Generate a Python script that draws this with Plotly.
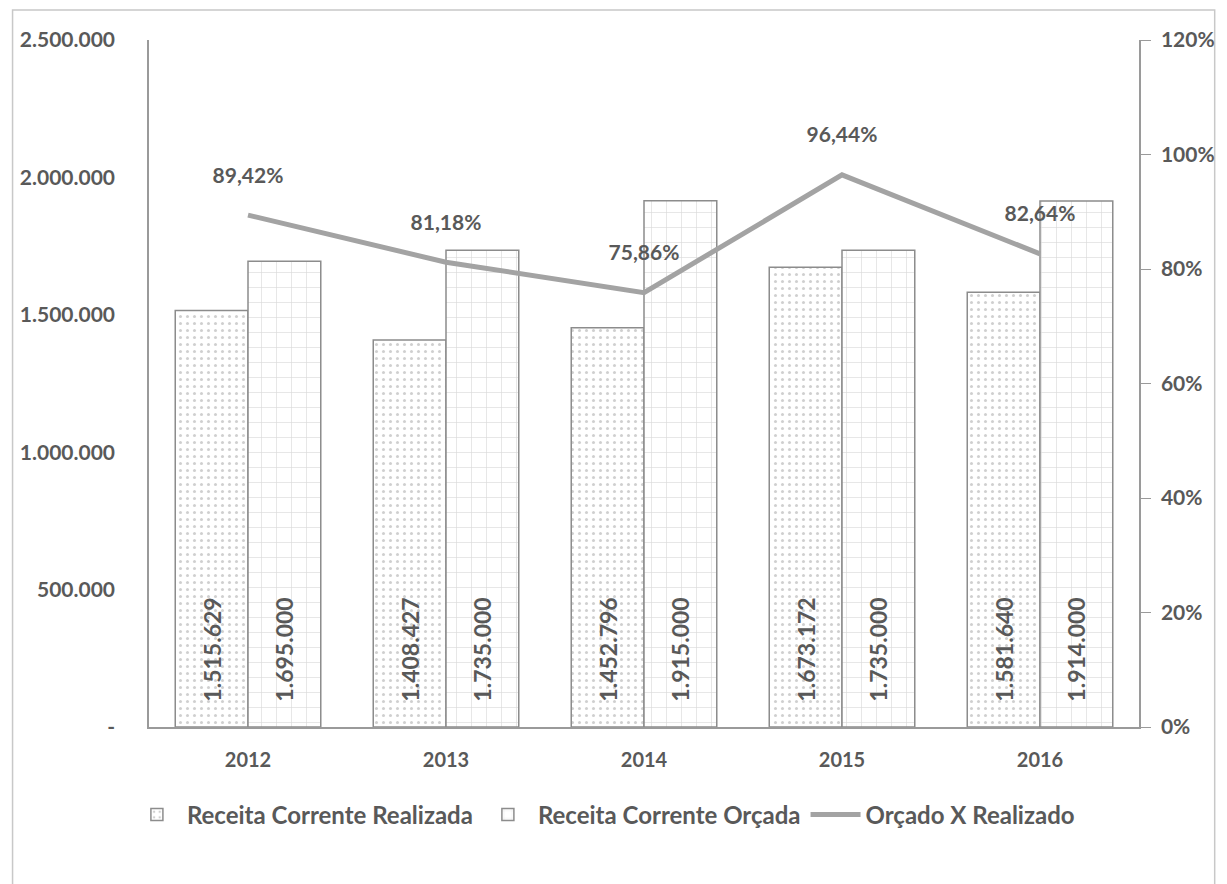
import plotly.graph_objects as go

years = ["2012", "2013", "2014", "2015", "2016"]
realizada = [1515629, 1408427, 1452796, 1673172, 1581640]
orcada = [1695000, 1735000, 1915000, 1735000, 1914000]
pct = [89.42, 81.18, 75.86, 96.44, 82.64]

left_tickvals = [0, 500000, 1000000, 1500000, 2000000, 2500000]
left_ticktext = ["-", "500.000", "1.000.000", "1.500.000", "2.000.000", "2.500.000"]
right_tickvals = [0, 20, 40, 60, 80, 100, 120]
right_ticktext = ["0%", "20%", "40%", "60%", "80%", "100%", "120%"]


def fmt_int(v):
    return "\u00a0\u00a0\u00a0\u00a0" + f"{v:,}".replace(",", ".")


def fmt_pct(v):
    return f"{v:.2f}".replace(".", ",") + "%<br> "


TXT = "#595959"
GRID = "#9a9a9a"
FONT = "Lato"

fig = go.Figure()
fig.add_trace(go.Bar(
    x=years, y=realizada, name="Receita Corrente Realizada",
    marker=dict(color="white", line=dict(color="#8c8c8c", width=1.5),
                pattern=dict(shape=".", fgcolor="#a0a0a0", bgcolor="white", size=7, solidity=0.15)),
    text=[fmt_int(v) for v in realizada], textposition="inside", insidetextanchor="start",
    textangle=-90, textfont=dict(family=FONT, size=23, color=TXT, weight="bold"),
))
fig.add_trace(go.Bar(
    x=years, y=orcada, name="Receita Corrente Orçada",
    marker=dict(color="white", line=dict(color="#8c8c8c", width=1.5),
                pattern=dict(shape="+", fgcolor="#b0b0b0", bgcolor="white", size=15, solidity=0.08)),
    text=[fmt_int(v) for v in orcada], textposition="inside", insidetextanchor="start",
    textangle=-90, textfont=dict(family=FONT, size=23, color=TXT, weight="bold"),
))
fig.add_trace(go.Scatter(
    x=years, y=pct, name="Orçado X Realizado", yaxis="y2", mode="lines+text",
    line=dict(color="#a3a3a3", width=5),
    text=[fmt_pct(v) for v in pct], textposition="top center",
    textfont=dict(family=FONT, size=21, color=TXT, weight="bold"),
))

fig.update_layout(
    width=1227, height=884,
    paper_bgcolor="white", plot_bgcolor="white",
    margin=dict(l=137, r=96, t=32, b=165),
    barmode="group", bargap=0.265, bargroupgap=0,
    font=dict(family=FONT, color=TXT, size=20),
    uniformtext=dict(mode="show", minsize=10),
    xaxis=dict(type="category", showline=True, linecolor=GRID, linewidth=1.5, ticks="",
               ticklabelstandoff=14,
               tickfont=dict(family=FONT, size=20, color=TXT, weight="bold"),
               showgrid=False, zeroline=False),
    yaxis=dict(range=[0, 2500000], tickvals=left_tickvals, ticktext=left_ticktext,
               showline=True, linecolor=GRID, linewidth=1.5, showgrid=False, zeroline=False,
               ticks="", ticklabelstandoff=28,
               tickfont=dict(family=FONT, size=21, color=TXT, weight="bold")),
    yaxis2=dict(range=[0, 120], tickvals=right_tickvals, ticktext=right_ticktext,
                overlaying="y", side="right", showline=True, linecolor=GRID, linewidth=1.5,
                ticks="outside", ticklen=10, tickcolor=GRID, showgrid=False, zeroline=False,
                ticklabelstandoff=6,
                tickfont=dict(family=FONT, size=21, color=TXT, weight="bold")),
    legend=dict(orientation="h", x=0.459, xanchor="center", y=-0.128, yanchor="middle",
                font=dict(family=FONT, size=24, color=TXT, weight="bold"),
                itemwidth=50, traceorder="normal"),
    showlegend=True,
)
fig.add_shape(type="rect", xref="paper", yref="paper",
              x0=-137/994, x1=1 + 76/994, y0=-200/687, y1=1 + 30/687,
              line=dict(color="#c8c8c8", width=1.5), fillcolor="rgba(0,0,0,0)", layer="below")
fig.write_html("out.html")
